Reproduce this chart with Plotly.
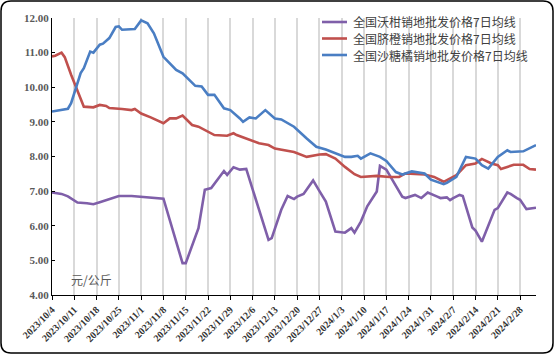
import plotly.graph_objects as go

# ---------------- data ----------------
wogan_name = "全国沃柑销地批发价格7日均线"
wogan_dates = ["2023-10-04", "2023-10-07", "2023-10-09", "2023-10-12", "2023-10-15", "2023-10-17",
               "2023-10-19", "2023-10-22", "2023-10-25", "2023-10-29", "2023-11-01", "2023-11-04",
               "2023-11-08", "2023-11-14", "2023-11-15", "2023-11-19", "2023-11-21", "2023-11-23",
               "2023-11-27", "2023-11-28", "2023-11-30", "2023-12-02", "2023-12-04", "2023-12-11",
               "2023-12-12", "2023-12-15", "2023-12-17", "2023-12-19", "2023-12-20", "2023-12-22",
               "2023-12-25", "2023-12-27", "2023-12-29", "2024-01-01", "2024-01-04", "2024-01-06",
               "2024-01-07", "2024-01-09", "2024-01-11", "2024-01-14", "2024-01-15", "2024-01-17",
               "2024-01-20", "2024-01-22", "2024-01-23", "2024-01-26", "2024-01-28", "2024-01-30",
               "2024-02-02", "2024-02-03", "2024-02-05", "2024-02-06", "2024-02-07", "2024-02-09",
               "2024-02-10", "2024-02-13", "2024-02-14", "2024-02-16", "2024-02-20", "2024-02-21",
               "2024-02-24", "2024-02-25", "2024-02-27", "2024-02-28", "2024-03-01", "2024-03-03",
               "2024-03-04"]
wogan_vals = [6.96, 6.92, 6.85, 6.67, 6.65, 6.62,
              6.68, 6.76, 6.86, 6.86, 6.83, 6.81,
              6.78, 4.92, 4.92, 5.93, 7.04, 7.09,
              7.58, 7.47, 7.69, 7.62, 7.64, 5.59,
              5.64, 6.46, 6.86, 6.77, 6.84, 6.92,
              7.31, 7.00, 6.70, 5.83, 5.80, 5.93,
              5.80, 6.12, 6.56, 6.99, 7.73, 7.62,
              7.13, 6.84, 6.80, 6.89, 6.80, 6.96,
              6.84, 6.80, 6.82, 6.74, 6.80, 6.89,
              6.86, 5.95, 5.86, 5.54, 6.46, 6.51,
              6.96, 6.92, 6.80, 6.75, 6.48, 6.50,
              6.52]

qicheng_name = "全国脐橙销地批发价格7日均线"
qicheng_dates = ["2023-10-04", "2023-10-05", "2023-10-07", "2023-10-08", "2023-10-10", "2023-10-13",
                 "2023-10-14", "2023-10-17", "2023-10-19", "2023-10-21", "2023-10-22", "2023-10-26",
                 "2023-10-29", "2023-10-30", "2023-11-01", "2023-11-04", "2023-11-08", "2023-11-10",
                 "2023-11-12", "2023-11-14", "2023-11-17", "2023-11-19", "2023-11-22", "2023-11-24",
                 "2023-11-28", "2023-11-30", "2023-12-01", "2023-12-04", "2023-12-08", "2023-12-11",
                 "2023-12-13", "2023-12-19", "2023-12-23", "2023-12-27", "2023-12-29", "2024-01-01",
                 "2024-01-04", "2024-01-07", "2024-01-09", "2024-01-14", "2024-01-18", "2024-01-21",
                 "2024-01-23", "2024-01-29", "2024-02-01", "2024-02-04", "2024-02-08", "2024-02-11",
                 "2024-02-14", "2024-02-16", "2024-02-19", "2024-02-21", "2024-02-22", "2024-02-26",
                 "2024-02-29", "2024-03-02", "2024-03-04"]
qicheng_vals = [10.89, 10.91, 11.00, 10.87, 10.36, 9.63,
                9.44, 9.42, 9.49, 9.46, 9.40, 9.37,
                9.34, 9.37, 9.24, 9.13, 8.96, 9.10,
                9.10, 9.18, 8.91, 8.86, 8.71, 8.62,
                8.60, 8.67, 8.62, 8.52, 8.38, 8.33,
                8.23, 8.13, 7.99, 8.06, 8.07, 7.94,
                7.70, 7.49, 7.41, 7.44, 7.41, 7.41,
                7.51, 7.48, 7.41, 7.27, 7.46, 7.75,
                7.80, 7.93, 7.80, 7.75, 7.64, 7.76,
                7.76, 7.64, 7.62]

shatangju_name = "全国沙糖橘销地批发价格7日均线"
shatangju_dates = ["2023-10-04", "2023-10-09", "2023-10-10", "2023-10-11", "2023-10-13", "2023-10-14",
                   "2023-10-16", "2023-10-17", "2023-10-19", "2023-10-20", "2023-10-22", "2023-10-24",
                   "2023-10-25", "2023-10-26", "2023-10-30", "2023-11-01", "2023-11-03", "2023-11-05",
                   "2023-11-08", "2023-11-12", "2023-11-14", "2023-11-18", "2023-11-20", "2023-11-22",
                   "2023-11-24", "2023-11-27", "2023-11-29", "2023-12-02", "2023-12-03", "2023-12-05",
                   "2023-12-07", "2023-12-10", "2023-12-13", "2023-12-15", "2023-12-19", "2023-12-23",
                   "2023-12-26", "2023-12-29", "2024-01-01", "2024-01-04", "2024-01-06", "2024-01-08",
                   "2024-01-09", "2024-01-12", "2024-01-15", "2024-01-17", "2024-01-20", "2024-01-22",
                   "2024-01-25", "2024-01-29", "2024-01-31", "2024-02-04", "2024-02-05", "2024-02-08",
                   "2024-02-11", "2024-02-14", "2024-02-16", "2024-02-18", "2024-02-21", "2024-02-24",
                   "2024-02-25", "2024-02-27", "2024-02-29", "2024-03-04"]
shatangju_vals = [9.30, 9.38, 9.54, 9.83, 10.41, 10.55,
                  11.03, 11.00, 11.23, 11.26, 11.42, 11.74,
                  11.76, 11.66, 11.68, 11.93, 11.85, 11.56,
                  10.88, 10.50, 10.40, 10.04, 10.02, 9.78,
                  9.78, 9.39, 9.34, 9.10, 9.00, 9.13,
                  9.10, 9.34, 9.10, 9.07, 8.86, 8.52,
                  8.28, 8.20, 8.10, 7.99, 7.99, 8.02,
                  7.94, 8.09, 7.99, 7.87, 7.55, 7.48,
                  7.57, 7.51, 7.33, 7.20, 7.24, 7.41,
                  7.99, 7.94, 7.75, 7.65, 7.99, 8.18,
                  8.13, 8.13, 8.15, 8.33]

y_unit = "元/公斤"
x_start = "2023-10-04"
x_end = "2024-03-04"

# ---------------- layout geometry ----------------
W, H = 554, 354
ML, MR, MT, MB = 52, 18, 18, 59
PW, PH = W - ML - MR, H - MT - MB

def px(x):
    return (x - ML) / PW

def py(y):
    return (H - MB - y) / PH

fig = go.Figure()
series = [
    (wogan_name, wogan_dates, wogan_vals, "#7F5FA9"),
    (qicheng_name, qicheng_dates, qicheng_vals, "#C0504D"),
    (shatangju_name, shatangju_dates, shatangju_vals, "#4A7EC3"),
]
for name, xs, ys, col in series:
    fig.add_trace(go.Scatter(x=xs, y=ys, name=name, mode="lines", showlegend=False,
                             line=dict(color=col, width=2.6)))

# legend (drawn as keys + labels to match the reference's compact row spacing)
legend_rows_y = [22, 38.5, 55]
for (name, _, _, col), ry in zip(series, legend_rows_y):
    fig.add_shape(type="line", xref="paper", yref="paper",
                  x0=px(322), x1=px(347), y0=py(ry), y1=py(ry),
                  line=dict(color=col, width=2.6))
    fig.add_annotation(x=px(351), y=py(ry), xref="paper", yref="paper",
                       text=name, showarrow=False, xanchor="left", yanchor="middle",
                       font=dict(family="Noto Sans CJK SC", size=12, color="#404040"))

# rounded border around the chart
x0, x1, y0, y1, r = 1, 553, 1, 353, 10
path = (f"M {px(x0 + r)},{py(y0)} L {px(x1 - r)},{py(y0)} "
        f"Q {px(x1)},{py(y0)} {px(x1)},{py(y0 + r)} "
        f"L {px(x1)},{py(y1 - r)} Q {px(x1)},{py(y1)} {px(x1 - r)},{py(y1)} "
        f"L {px(x0 + r)},{py(y1)} Q {px(x0)},{py(y1)} {px(x0)},{py(y1 - r)} "
        f"L {px(x0)},{py(y0 + r)} Q {px(x0)},{py(y0)} {px(x0 + r)},{py(y0)} Z")
fig.add_shape(type="path", xref="paper", yref="paper", path=path,
              line=dict(color="#000000", width=1.5), layer="above")

fig.add_annotation(x=px(69), y=py(279), xref="paper", yref="paper",
                   text=y_unit, showarrow=False, xanchor="left", yanchor="middle",
                   font=dict(family="Noto Sans CJK SC", size=12, color="#595959"))

fig.update_layout(
    width=W, height=H,
    margin=dict(l=ML, r=MR, t=MT, b=MB, autoexpand=False),
    paper_bgcolor="white", plot_bgcolor="white",
    showlegend=False,
    xaxis=dict(type="date", range=[x_start, x_end], automargin=False,
               tick0=x_start, dtick=7 * 86400000, tickformat="%Y/%-m/%-d",
               tickangle=-45, showgrid=True, gridcolor="#D9D9D9", gridwidth=1.5,
               showline=True, linecolor="#000000", linewidth=1,
               ticks="outside", ticklen=4, tickcolor="#000000",
               tickfont=dict(family="Liberation Serif", size=10, color="#333333", weight="bold"),
               zeroline=False),
    yaxis=dict(range=[4, 12], dtick=1, tickformat=".2f", showgrid=False, automargin=False,
               showline=True, linecolor="#000000", linewidth=1,
               ticks="inside", ticklen=3, tickcolor="#000000",
               tickfont=dict(family="Liberation Serif", size=11, color="#595959", weight="bold"),
               zeroline=False),
)

fig.write_html("out.html")
